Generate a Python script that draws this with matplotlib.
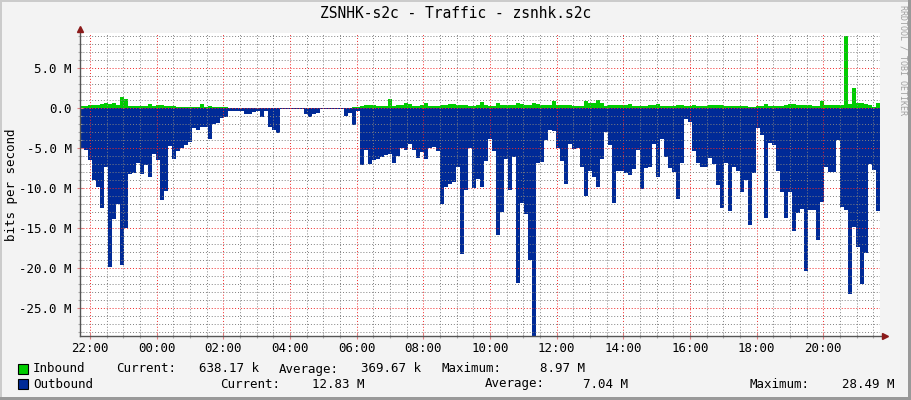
import numpy as np
import matplotlib.pyplot as plt
from matplotlib.patches import Rectangle
from matplotlib.ticker import MultipleLocator, FuncFormatter

# 5-ish minute buckets, in Mbit/s
inbound = [
    0.25, 0.25, 0.35, 0.4, 0.4, 0.55, 0.6, 0.5, 0.6, 0.4,
    1.4, 1.1, 0.25, 0.25, 0.25, 0.25, 0.25, 0.5, 0.25, 0.35,
    0.35, 0.3, 0.25, 0.3, 0.2, 0.2, 0.2, 0.2, 0.2, 0.2,
    0.5, 0.2, 0.3, 0.2, 0.2, 0.1, 0.2, 0.05, 0.05, 0.05,
    0.08, 0.08, 0.08, 0.08, 0.08, 0.08, 0.08, 0.08, 0.08, 0.08,
    0.08, 0.08, 0.08, 0.08, 0.08, 0.08, 0.08, 0.08, 0.08, 0.08,
    0.0, 0.0, 0.0, 0.0, 0.0, 0.0, 0.0, 0.0, 0.15, 0.1,
    0.25, 0.35, 0.4, 0.35, 0.3, 0.3, 0.3, 1.1, 0.25, 0.4,
    0.45, 0.6, 0.5, 0.3, 0.3, 0.35, 0.6, 0.3, 0.3, 0.3,
    0.4, 0.45, 0.5, 0.5, 0.4, 0.45, 0.35, 0.3, 0.3, 0.45,
    0.75, 0.4, 0.3, 0.3, 0.6, 0.4, 0.4, 0.35, 0.35, 0.7,
    0.5, 0.4, 0.4, 0.6, 0.55, 0.35, 0.35, 0.35, 0.9, 0.45,
    0.4, 0.4, 0.35, 0.25, 0.25, 0.25, 0.9, 0.65, 0.65, 1.0,
    0.6, 0.3, 0.35, 0.35, 0.35, 0.35, 0.4, 0.5, 0.3, 0.3,
    0.3, 0.3, 0.35, 0.45, 0.5, 0.3, 0.3, 0.3, 0.3, 0.45,
    0.35, 0.3, 0.25, 0.45, 0.3, 0.3, 0.3, 0.35, 0.45, 0.35,
    0.45, 0.3, 0.25, 0.25, 0.3, 0.3, 0.3, 0.2, 0.2, 0.25,
    0.25, 0.5, 0.25, 0.3, 0.3, 0.3, 0.4, 0.5, 0.5, 0.45,
    0.35, 0.35, 0.35, 0.25, 0.3, 0.9, 0.35, 0.35, 0.35, 0.35,
    0.4, 8.97, 0.5, 2.5, 0.7, 0.6, 0.5, 0.35, 0.15, 0.64,
]
outbound = [
    5.0, 5.2, 6.5, 9.0, 9.9, 12.5, 7.3, 19.8, 13.9, 12.0,
    19.6, 15.0, 8.2, 8.1, 6.8, 8.2, 7.1, 8.6, 5.7, 6.5,
    11.5, 10.3, 4.75, 6.4, 5.3, 5.0, 4.6, 4.2, 2.5, 2.7,
    2.4, 2.3, 3.8, 2.0, 1.9, 1.2, 1.1, 0.4, 0.4, 0.3,
    0.4, 0.7, 0.7, 0.5, 0.3, 1.1, 0.3, 2.4, 2.7, 3.1,
    0.15, 0.15, 0.15, 0.15, 0.15, 0.15, 0.7, 1.1, 0.7, 0.6,
    0.15, 0.15, 0.15, 0.15, 0.15, 0.15, 1.0, 0.6, 2.1, 0.3,
    7.1, 5.25, 7.0, 6.5, 6.3, 6.1, 5.9, 5.7, 6.8, 6.0,
    5.0, 5.2, 4.5, 5.2, 6.2, 5.5, 6.4, 5.0, 4.9, 5.4,
    12.0, 9.9, 9.5, 9.2, 7.3, 18.2, 10.2, 5.0, 10.0, 8.8,
    9.8, 6.6, 3.8, 5.4, 15.9, 13.0, 6.4, 10.2, 6.1, 21.8,
    11.9, 13.2, 19.0, 28.49, 6.9, 6.7, 4.0, 2.7, 2.8, 5.0,
    6.6, 9.5, 4.5, 5.1, 5.0, 7.3, 11.0, 7.8, 8.6, 9.8,
    6.4, 3.0, 4.6, 11.9, 7.8, 7.9, 8.1, 8.3, 7.6, 5.2,
    10.1, 7.5, 7.3, 4.5, 8.6, 3.9, 6.1, 7.5, 8.0, 11.3,
    6.8, 1.3, 1.7, 5.3, 6.8, 7.3, 7.4, 6.2, 7.0, 9.6,
    12.5, 6.9, 12.9, 7.4, 7.8, 10.5, 9.0, 14.6, 8.1, 2.5,
    3.4, 13.7, 4.3, 4.6, 7.8, 10.5, 13.7, 10.5, 15.3, 13.1,
    12.6, 20.3, 12.7, 12.7, 16.5, 11.7, 7.4, 8.0, 8.0, 4.0,
    12.3, 12.7, 23.3, 14.9, 17.3, 22.0, 18.1, 7.0, 7.7, 12.83,
]
start_hour = 21.7   # 21:42
step_hour = 0.12

legend_in = ["Current:", "638.17 k", "Average:", "369.67 k", "Maximum:", "8.97 M"]
legend_out = ["Current:", "12.83 M", "Average:", "7.04 M", "Maximum:", "28.49 M"]

GREEN = "#00CC00"
BLUE = "#002A97"
MONO = "DejaVu Sans Mono"
W, H = 911, 400


def px(x, y):
    return x / W, 1 - y / H


fig = plt.figure(figsize=(W / 100, H / 100), dpi=100, facecolor="#F3F3F3")
ax = fig.add_axes([80 / W, 64 / H, 800 / W, 303 / H])
ax.set_facecolor("white")

edges = start_hour + step_hour * np.arange(len(outbound) + 1)
ax.stairs(inbound, edges, fill=True, color=GREEN, baseline=0, zorder=1, lw=0)
ax.stairs(-np.array(outbound), edges, fill=True, color=BLUE, baseline=0, zorder=1, lw=0)

ax.set_xlim(start_hour, start_hour + 24)
ax.set_ylim(-28.49, 9.4)

ax.xaxis.set_major_locator(MultipleLocator(2))
ax.xaxis.set_minor_locator(MultipleLocator(0.5))
ax.yaxis.set_major_locator(MultipleLocator(5))
ax.yaxis.set_minor_locator(MultipleLocator(1))
ax.xaxis.set_major_formatter(FuncFormatter(lambda v, p: f"{int(round(v)) % 24:02d}:00"))
ax.yaxis.set_major_formatter(FuncFormatter(lambda v, p: "0.0" if abs(v) < 1e-9 else f"{v:.1f} M"))

# RRD style translucent grid drawn over the data
ax.set_axisbelow(False)
ax.grid(which="minor", color=(0.5, 0.5, 0.5, 0.3), linestyle=(0, (1, 2)), linewidth=0.7)
ax.grid(which="major", color=(0.95, 0.15, 0.15, 0.35), linestyle=(0, (1, 2)), linewidth=0.7)

for s in ["top", "right", "left", "bottom"]:
    ax.spines[s].set_visible(False)
axis_col = "#555555"
ax.plot([0, 1.006], [0, 0], color=axis_col, lw=1, transform=ax.transAxes, clip_on=False, zorder=5)
ax.plot([0, 0], [0, 1.01], color=axis_col, lw=1, transform=ax.transAxes, clip_on=False, zorder=5)
ax.plot([1.006], [0], marker=">", ms=4.5, color="#8B1A1A", transform=ax.transAxes, clip_on=False, zorder=6)
ax.plot([0], [1.012], marker="^", ms=4.5, color="#8B1A1A", transform=ax.transAxes, clip_on=False, zorder=6)

ax.tick_params(which="major", direction="inout", length=4, width=0.8, color="#E08080",
               labelsize=9, labelcolor="black")
ax.tick_params(which="minor", direction="inout", length=3, width=0.8, color="#AAAAAA")
ax.tick_params(axis="x", which="major", pad=2.5)
ax.tick_params(axis="y", which="major", pad=4)
for lab in ax.get_xticklabels() + ax.get_yticklabels():
    lab.set_family(MONO)

fig.text(*px(455.5, 14), "ZSNHK-s2c - Traffic - zsnhk.s2c", family=MONO, fontsize=10.5,
         ha="center", va="center")
fig.text(*px(12, 185), "bits per second", family=MONO, fontsize=9, rotation=90,
         ha="center", va="center")
fig.text(*px(903, 60), "RRDTOOL / TOBI OETIKER", family=MONO, fontsize=6, rotation=270,
         ha="center", va="center", color="#A0A0A0")

# legend
fig.add_artist(Rectangle(px(18, 374), 10 / W, 10 / H, transform=fig.transFigure,
                         facecolor=GREEN, edgecolor="black", lw=0.8))
fig.add_artist(Rectangle(px(18, 389), 10 / W, 10 / H, transform=fig.transFigure,
                         facecolor=BLUE, edgecolor="black", lw=0.8))
fig.text(*px(33, 369), "Inbound", family=MONO, fontsize=9, va="center")
fig.text(*px(33, 384), "Outbound", family=MONO, fontsize=9, va="center")

in_lab_x = [116, 279, 441]
in_val_x = [259, 421, 585]
out_lab_x = [220, 485, 750]
out_val_x = [364, 628, 894]
for k in range(3):
    fig.text(*px(in_lab_x[k], 369), legend_in[2 * k], family=MONO, fontsize=9, va="center")
    fig.text(*px(in_val_x[k], 369), legend_in[2 * k + 1], family=MONO, fontsize=9,
             va="center", ha="right")
    fig.text(*px(out_lab_x[k], 384), legend_out[2 * k], family=MONO, fontsize=9, va="center")
    fig.text(*px(out_val_x[k], 384), legend_out[2 * k + 1], family=MONO, fontsize=9,
             va="center", ha="right")

# frame shading
fig.add_artist(Rectangle((0, 1 - 2 / H), 1, 2 / H, transform=fig.transFigure, color="#CBCBCB", lw=0))
fig.add_artist(Rectangle((0, 0), 2 / W, 1, transform=fig.transFigure, color="#CBCBCB", lw=0))
fig.add_artist(Rectangle((1 - 3 / W, 0), 3 / W, 1, transform=fig.transFigure, color="#999999", lw=0))
fig.add_artist(Rectangle((0, 0), 1, 3 / H, transform=fig.transFigure, color="#999999", lw=0))

fig.savefig("out.png", dpi=100, facecolor=fig.get_facecolor())
